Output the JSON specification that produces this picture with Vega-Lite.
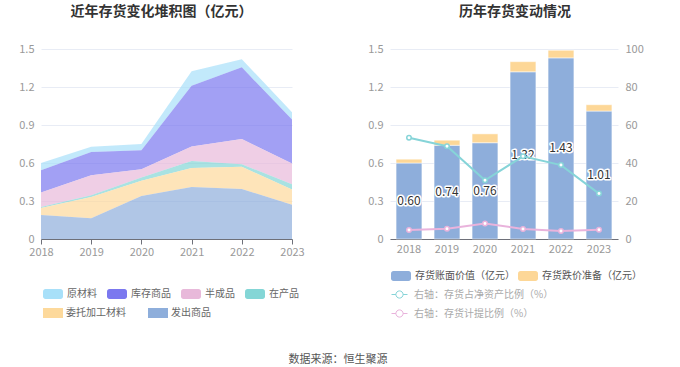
{
  "$schema": "https://vega.github.io/schema/vega-lite/v6.json",
  "padding": {"left": 18, "top": 5, "right": 5, "bottom": 5},
  "spacing": 98,
  "bounds": "flush",
  "resolve": {"scale": {"x": "independent", "y": "independent", "color": "independent", "fill": "independent", "stroke": "independent"}, "legend": {"color": "independent", "fill": "independent", "stroke": "independent"}},
  "title": {"text": "数据来源：恒生聚源", "orient": "bottom", "anchor": "middle", "fontSize": 11, "fontWeight": "normal", "color": "#555", "offset": 21, "dx": 7},
  "config": {
    "font": "Noto Sans CJK SC",
    "view": {"stroke": null},
    "axis": {"labelColor": "#999", "labelFontSize": 11, "gridColor": "#e8ecf5", "domainColor": "#6e7079", "tickColor": "#6e7079"},
    "legend": {"labelFontSize": 10, "labelColor": "#666", "padding": 0, "titlePadding": 0},
    "title": {"fontSize": 14, "fontWeight": "bold", "color": "#333", "offset": 24}
  },
  "datasets": {
    "stock": [
      {"year": "2018", "type": "原材料", "value": 0.057},
      {"year": "2018", "type": "库存商品", "value": 0.175},
      {"year": "2018", "type": "半成品", "value": 0.115},
      {"year": "2018", "type": "在产品", "value": 0.008},
      {"year": "2018", "type": "委托加工材料", "value": 0.055},
      {"year": "2018", "type": "发出商品", "value": 0.19},
      {"year": "2019", "type": "原材料", "value": 0.042},
      {"year": "2019", "type": "库存商品", "value": 0.184},
      {"year": "2019", "type": "半成品", "value": 0.158},
      {"year": "2019", "type": "在产品", "value": 0.013},
      {"year": "2019", "type": "委托加工材料", "value": 0.169},
      {"year": "2019", "type": "发出商品", "value": 0.163},
      {"year": "2020", "type": "原材料", "value": 0.05},
      {"year": "2020", "type": "库存商品", "value": 0.15},
      {"year": "2020", "type": "半成品", "value": 0.065},
      {"year": "2020", "type": "在产品", "value": 0.025},
      {"year": "2020", "type": "委托加工材料", "value": 0.12},
      {"year": "2020", "type": "发出商品", "value": 0.34},
      {"year": "2021", "type": "原材料", "value": 0.115},
      {"year": "2021", "type": "库存商品", "value": 0.48},
      {"year": "2021", "type": "半成品", "value": 0.115},
      {"year": "2021", "type": "在产品", "value": 0.055},
      {"year": "2021", "type": "委托加工材料", "value": 0.15},
      {"year": "2021", "type": "发出商品", "value": 0.41},
      {"year": "2022", "type": "原材料", "value": 0.065},
      {"year": "2022", "type": "库存商品", "value": 0.565},
      {"year": "2022", "type": "半成品", "value": 0.2},
      {"year": "2022", "type": "在产品", "value": 0.02},
      {"year": "2022", "type": "委托加工材料", "value": 0.175},
      {"year": "2022", "type": "发出商品", "value": 0.395},
      {"year": "2023", "type": "原材料", "value": 0.058},
      {"year": "2023", "type": "库存商品", "value": 0.347},
      {"year": "2023", "type": "半成品", "value": 0.163},
      {"year": "2023", "type": "在产品", "value": 0.043},
      {"year": "2023", "type": "委托加工材料", "value": 0.12},
      {"year": "2023", "type": "发出商品", "value": 0.27}
    ],
    "bars": [
      {"year": "2018", "series": "存货账面价值（亿元）", "value": 0.60},
      {"year": "2019", "series": "存货账面价值（亿元）", "value": 0.74},
      {"year": "2020", "series": "存货账面价值（亿元）", "value": 0.76},
      {"year": "2021", "series": "存货账面价值（亿元）", "value": 1.32},
      {"year": "2022", "series": "存货账面价值（亿元）", "value": 1.43},
      {"year": "2023", "series": "存货账面价值（亿元）", "value": 1.01},
      {"year": "2018", "series": "存货跌价准备（亿元）", "value": 0.03},
      {"year": "2019", "series": "存货跌价准备（亿元）", "value": 0.04},
      {"year": "2020", "series": "存货跌价准备（亿元）", "value": 0.07},
      {"year": "2021", "series": "存货跌价准备（亿元）", "value": 0.08},
      {"year": "2022", "series": "存货跌价准备（亿元）", "value": 0.06},
      {"year": "2023", "series": "存货跌价准备（亿元）", "value": 0.05}
    ],
    "ratios": [
      {"year": "2018", "series": "右轴：存货占净资产比例（%）", "value": 53.3},
      {"year": "2019", "series": "右轴：存货占净资产比例（%）", "value": 48.8},
      {"year": "2020", "series": "右轴：存货占净资产比例（%）", "value": 30.9},
      {"year": "2021", "series": "右轴：存货占净资产比例（%）", "value": 43.5},
      {"year": "2022", "series": "右轴：存货占净资产比例（%）", "value": 38.9},
      {"year": "2023", "series": "右轴：存货占净资产比例（%）", "value": 23.9},
      {"year": "2018", "series": "右轴：存货计提比例（%）", "value": 4.7},
      {"year": "2019", "series": "右轴：存货计提比例（%）", "value": 5.4},
      {"year": "2020", "series": "右轴：存货计提比例（%）", "value": 8.2},
      {"year": "2021", "series": "右轴：存货计提比例（%）", "value": 5.3},
      {"year": "2022", "series": "右轴：存货计提比例（%）", "value": 4.2},
      {"year": "2023", "series": "右轴：存货计提比例（%）", "value": 4.9}
    ],
    "stackOrder": [
      {"type": "发出商品", "rank": 1},
      {"type": "委托加工材料", "rank": 2},
      {"type": "在产品", "rank": 3},
      {"type": "半成品", "rank": 4},
      {"type": "库存商品", "rank": 5},
      {"type": "原材料", "rank": 6}
    ]
  },
  "hconcat": [
    {
      "width": 251,
      "height": 190,
      "title": {"text": "近年存货变化堆积图（亿元）", "frame": "group", "dx": -5},
      "data": {"name": "stock"},
      "transform": [
        {"lookup": "type", "from": {"data": {"name": "stackOrder"}, "key": "type", "fields": ["type", "rank"]}, "as": ["type2", "rank"]}
      ],
      "mark": {"type": "area", "opacity": 0.7, "strokeWidth": 0},
      "encoding": {
        "x": {"field": "year", "type": "ordinal", "scale": {"type": "point", "padding": 0},
              "axis": {"title": null, "labelAngle": 0, "tickSize": 5, "labelPadding": 2, "grid": false}},
        "y": {"field": "value", "type": "quantitative", "stack": "zero", "scale": {"domain": [0, 1.5]},
              "axis": {"title": null, "values": [0, 0.3, 0.6, 0.9, 1.2, 1.5], "format": "~g", "domain": false, "ticks": false, "labelPadding": 7}},
        "order": {"field": "rank", "type": "quantitative", "sort": "ascending"},
        "color": {"field": "type", "type": "nominal",
                  "scale": {"domain": ["原材料", "库存商品", "半成品", "在产品", "委托加工材料", "发出商品"],
                            "range": ["#a8e0f9", "#7b78ef", "#e8b9da", "#84d6d6", "#fdd99b", "#8eaedb"]},
                  "legend": {"title": null, "orient": "none", "legendX": 2, "legendY": 235, "direction": "horizontal", "columns": 4,
                             "values": ["原材料", "库存商品", "半成品", "在产品"], "gridAlign": "none",
                             "symbolType": "M-0.75,-0.5H0.75A0.25,0.25,0,0,1,1,-0.25V0.25A0.25,0.25,0,0,1,0.75,0.5H-0.75A0.25,0.25,0,0,1,-1,0.25V-0.25A0.25,0.25,0,0,1,-0.75,-0.5Z",
                             "symbolSize": 400, "symbolStrokeWidth": 0, "symbolOpacity": 1, "labelOffset": 4, "columnPadding": 10}},
        "stroke": {"field": "type2", "type": "nominal",
                   "scale": {"domain": ["委托加工材料", "发出商品"], "range": ["#fdd99b", "#8eaedb"]},
                   "legend": {"title": null, "orient": "none", "legendX": -3, "legendY": 249, "direction": "horizontal", "columns": 2, "gridAlign": "none",
                              "symbolType": "M-1,0H1",
                              "symbolSize": 400, "symbolStrokeWidth": 10, "symbolFillColor": "transparent", "symbolOpacity": 1, "labelOffset": -2, "columnPadding": 2}}
      }
    },
    {
      "width": 228,
      "height": 190,
      "title": {"text": "历年存货变动情况", "frame": "group", "dx": 11},
      "layer": [
        {
          "data": {"name": "bars"},
          "encoding": {
            "x": {"field": "year", "type": "ordinal", "scale": {"paddingInner": 0, "paddingOuter": 0},
                  "axis": {"title": null, "labelAngle": 0, "ticks": false, "labelPadding": 4, "grid": false}}
          },
          "layer": [
            {
              "mark": {"type": "bar", "width": {"band": 0.68}, "stroke": "#ffffff", "strokeWidth": 0.5},
              "encoding": {
                "y": {"field": "value", "type": "quantitative", "stack": "zero", "scale": {"domain": [0, 1.5]},
                      "axis": {"title": null, "values": [0, 0.3, 0.6, 0.9, 1.2, 1.5], "format": "~g", "domain": false, "ticks": false, "labelPadding": 7}},
                "fill": {"field": "series", "type": "nominal",
                         "scale": {"domain": ["存货账面价值（亿元）", "存货跌价准备（亿元）"], "range": ["#8eaedb", "#fdd797"]},
                         "legend": {"title": null, "orient": "none", "legendX": 1, "legendY": 217, "direction": "horizontal", "columns": 2,
                                    "symbolType": "M-0.75,-0.5H0.75A0.25,0.25,0,0,1,1,-0.25V0.25A0.25,0.25,0,0,1,0.75,0.5H-0.75A0.25,0.25,0,0,1,-1,0.25V-0.25A0.25,0.25,0,0,1,-0.75,-0.5Z",
                                    "symbolSize": 400, "symbolStrokeWidth": 0, "labelOffset": 4, "columnPadding": 3, "labelColor": "#555"}},
                "order": {"field": "series", "sort": "ascending"}
              }
            },
            {
              "layer": [
                {
                  "mark": {"type": "text", "fontSize": 12, "stroke": "#ffffff", "strokeWidth": 3, "strokeJoin": "round", "fill": "#ffffff"},
                  "encoding": {
                    "y": {"field": "value", "type": "quantitative", "stack": null, "scale": {"domain": [0, 3]}, "axis": null},
                    "text": {"field": "value", "type": "quantitative", "format": ".2f"}
                  }
                },
                {
                  "mark": {"type": "text", "fontSize": 12, "fill": "#333333"},
                  "encoding": {
                    "y": {"field": "value", "type": "quantitative", "stack": null, "scale": {"domain": [0, 3]}, "axis": null},
                    "text": {"field": "value", "type": "quantitative", "format": ".2f"}
                  }
                }
              ],
              "transform": [{"filter": "datum.series == '存货账面价值（亿元）'"}]
            }
          ],
          "resolve": {"scale": {"y": "independent"}}
        },
        {
          "data": {"name": "ratios"},
          "mark": {"type": "line", "strokeWidth": 2, "point": {"filled": false, "fill": "#ffffff", "size": 20, "strokeWidth": 1.5}},
          "encoding": {
            "x": {"field": "year", "type": "ordinal"},
            "y": {"field": "value", "type": "quantitative", "scale": {"domain": [0, 100]},
                  "axis": {"title": null, "orient": "right", "values": [0, 20, 40, 60, 80, 100], "grid": false, "domain": false, "ticks": false, "labelPadding": 7}},
            "color": {"field": "series", "type": "nominal",
                      "scale": {"domain": ["右轴：存货占净资产比例（%）", "右轴：存货计提比例（%）"], "range": ["#86d4d8", "#e9b3dc"]},
                      "legend": {"title": null, "orient": "none", "legendX": 1, "legendY": 237, "direction": "vertical",
                                 "symbolType": "M-1,0H-0.45M0.45,0H1M0.45,0A0.45,0.45,0,1,1,-0.45,0A0.45,0.45,0,1,1,0.45,0",
                                 "symbolSize": 256, "symbolFillColor": "#ffffff", "symbolStrokeWidth": 1, "labelOffset": 6, "rowPadding": 4, "labelColor": "#aaa"}}
          }
        }
      ],
      "resolve": {"scale": {"y": "independent"}}
    }
  ]
}
